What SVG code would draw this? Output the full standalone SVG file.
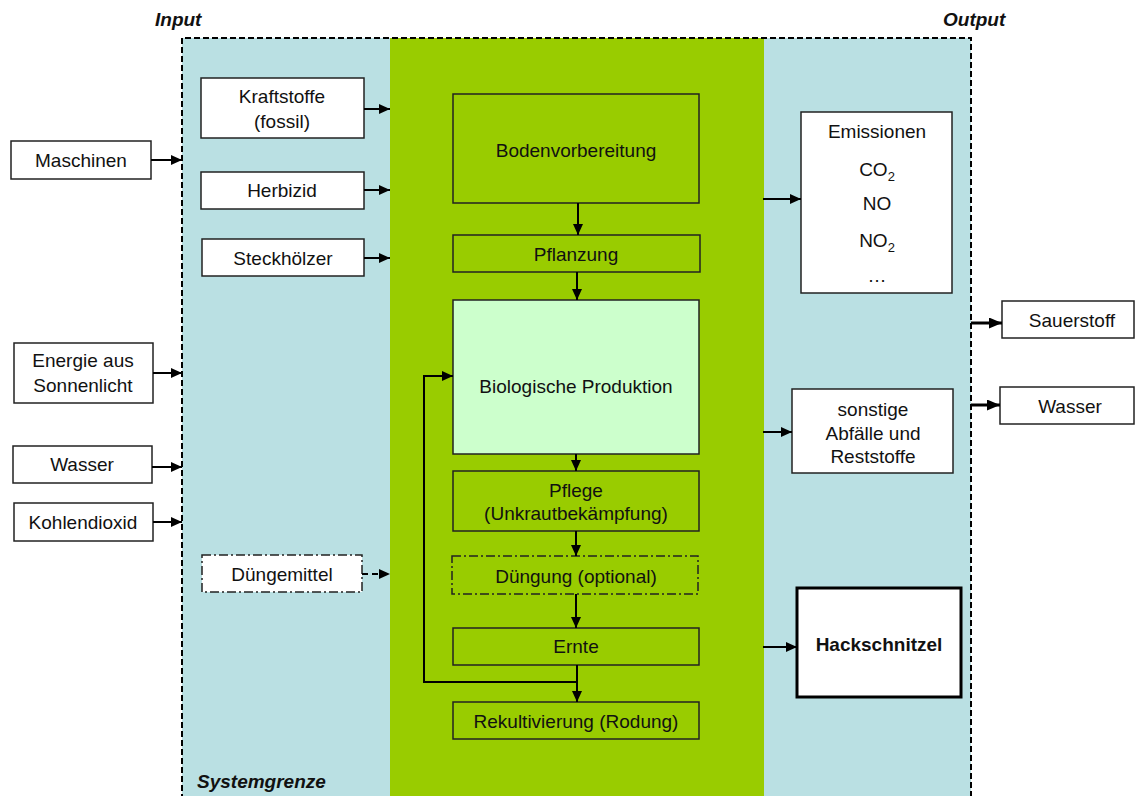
<svg xmlns="http://www.w3.org/2000/svg" width="1135" height="796" viewBox="0 0 1135 796">
<style>
text{font-family:"Liberation Sans",Arial,sans-serif;font-size:19px;fill:#111;text-anchor:middle}
.bi{font-weight:bold;font-style:italic;text-anchor:start}
.box{fill:#fff;stroke:#222;stroke-width:1.5}
.gbox{fill:#99CC00;stroke:#222;stroke-width:1.5}
.dd{stroke-dasharray:9 3 2 3}
.ar{fill:none;stroke:#000;stroke-width:2;marker-end:url(#ah)}
.ar3{fill:none;stroke:#000;stroke-width:3;marker-end:url(#ah2)}
</style>
<defs>
<marker id="ah" markerUnits="userSpaceOnUse" markerWidth="11" markerHeight="10" refX="11" refY="5" orient="auto"><path d="M0,0 L11,5 L0,10 z" fill="#000"/></marker>
<marker id="ah2" markerUnits="userSpaceOnUse" markerWidth="13" markerHeight="11" refX="13" refY="5.5" orient="auto"><path d="M0,0 L13,5.5 L0,11 z" fill="#000"/></marker>
</defs>
<rect width="1135" height="796" fill="#fff"/>
<g id="systemgrenze">
<rect x="182" y="38" width="789" height="770" fill="#BAE0E3"/>
<rect x="390" y="38" width="374" height="770" fill="#99CC00"/>
<path d="M182,800 V38 H971 V800" fill="none" stroke="#000" stroke-width="2" stroke-dasharray="6 3"/>
<text class="bi" x="155" y="26">Input</text>
<text class="bi" x="943" y="26">Output</text>
<text class="bi" x="197" y="788">Systemgrenze</text>
</g>
<g id="maschinen"><rect class="box" x="11" y="141" width="140" height="38"/><text x="81" y="167">Maschinen</text></g>
<g id="energie"><rect class="box" x="14" y="343" width="139" height="60"/><text x="83" y="367">Energie aus</text><text x="83" y="392">Sonnenlicht</text></g>
<g id="wasser-in"><rect class="box" x="13" y="446" width="139" height="37"/><text x="82" y="471">Wasser</text></g>
<g id="kohlendioxid"><rect class="box" x="14" y="503" width="139" height="38"/><text x="83" y="529">Kohlendioxid</text></g>
<g id="kraftstoffe"><rect class="box" x="201" y="78" width="163" height="60"/><text x="282" y="103">Kraftstoffe</text><text x="282" y="128">(fossil)</text></g>
<g id="herbizid"><rect class="box" x="201" y="172" width="163" height="37"/><text x="282" y="197">Herbizid</text></g>
<g id="steckhoelzer"><rect class="box" x="202" y="239" width="162" height="37"/><text x="283" y="265">Steckhölzer</text></g>
<g id="duengemittel"><rect class="box dd" x="202" y="555" width="160" height="37" stroke-width="2"/><text x="282" y="581">Düngemittel</text></g>
<g id="bodenvorbereitung"><rect class="gbox" x="453" y="94" width="246" height="109"/><text x="576" y="157">Bodenvorbereitung</text></g>
<g id="pflanzung"><rect class="gbox" x="453" y="235" width="247" height="37"/><text x="576" y="261">Pflanzung</text></g>
<g id="biologische-produktion"><rect x="453" y="300" width="246" height="154" fill="#CCFFCC" stroke="#222" stroke-width="1.5"/><text x="576" y="393">Biologische Produktion</text></g>
<g id="pflege"><rect class="gbox" x="453" y="471" width="246" height="60"/><text x="576" y="497">Pflege</text><text x="576" y="520">(Unkrautbekämpfung)</text></g>
<g id="duengung"><rect class="gbox dd" x="452" y="556" width="246" height="38" stroke-width="2"/><text x="576" y="583">Düngung (optional)</text></g>
<g id="ernte"><rect class="gbox" x="453" y="628" width="246" height="37"/><text x="576" y="653">Ernte</text></g>
<g id="rekultivierung"><rect class="gbox" x="453" y="702" width="246" height="37"/><text x="576" y="728">Rekultivierung (Rodung)</text></g>
<g id="emissionen"><rect class="box" x="801" y="112" width="151" height="181"/>
<text x="877" y="138">Emissionen</text>
<text x="877" y="176">CO<tspan font-size="13" dy="5">2</tspan></text>
<text x="877" y="210">NO</text>
<text x="877" y="247">NO<tspan font-size="13" dy="5">2</tspan></text>
<text x="877" y="282">…</text></g>
<g id="sonstige"><rect class="box" x="792" y="389" width="161" height="84"/><text x="873" y="416">sonstige</text><text x="873" y="440">Abfälle und</text><text x="873" y="463">Reststoffe</text></g>
<g id="hackschnitzel"><rect x="797" y="588" width="164" height="109" fill="#fff" stroke="#000" stroke-width="3"/><text x="879" y="651" font-weight="bold">Hackschnitzel</text></g>
<g id="sauerstoff"><rect class="box" x="1002" y="301" width="132" height="37"/><text x="1072" y="327">Sauerstoff</text></g>
<g id="wasser-out"><rect class="box" x="1000" y="387" width="134" height="37"/><text x="1070" y="413">Wasser</text></g>
<g id="connectors">
<path class="ar" d="M151,160 H182"/>
<path class="ar" d="M153,373 H182"/>
<path class="ar" d="M152,467 H182"/>
<path class="ar" d="M153,522 H182"/>
<path class="ar" d="M364,109 H390"/>
<path class="ar" d="M364,190 H390"/>
<path class="ar" d="M364,258 H390"/>
<path class="ar" d="M362,574 H390" stroke-dasharray="6 4"/>
<path class="ar" d="M578,203 V235"/>
<path class="ar" d="M577,272 V300"/>
<path class="ar" d="M576,454 V471"/>
<path class="ar" d="M576,531 V556"/>
<path class="ar" d="M576,594 V628"/>
<path class="ar" d="M577,665 V702"/>
<path class="ar" d="M577,682 H424 V376 H453"/>
<path class="ar" d="M763,199 H801"/>
<path class="ar" d="M763,432 H792"/>
<path class="ar" d="M763,647 H797"/>
<path class="ar3" d="M971,323 H1002"/>
<path class="ar3" d="M971,405 H1000"/>
</g>
</svg>
